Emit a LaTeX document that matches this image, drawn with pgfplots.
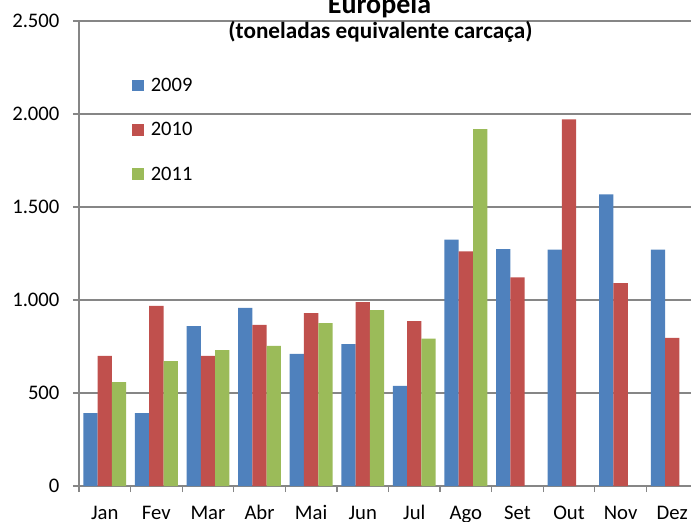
\documentclass[border=0pt]{standalone}
\usepackage{pgfplots}
\pgfplotsset{compat=1.18}
\usepackage{fontspec}
\setmainfont{Carlito}
\definecolor{c09}{HTML}{4F81BD}
\definecolor{c10}{HTML}{C0504D}
\definecolor{c11}{HTML}{9BBB59}
\definecolor{gridc}{RGB}{134,134,134}
\begin{document}
\begin{tikzpicture}
\begin{axis}[
  scale only axis, width=619bp, height=465bp,
  xmin=-0.5, xmax=11.5, ymin=0, ymax=2500,
  axis x line=bottom, axis y line=left,
  axis line style={gridc, line width=1.3bp, -},
  ybar=0pt, bar width=14.3bp,
  xtick={0,...,11},
  xticklabels={Jan,Fev,Mar,Abr,Mai,Jun,Jul,Ago,Set,Out,Nov,Dez},
  major x tick style={draw=none},
  minor xtick={-0.5,0.5,...,11.5},
  minor x tick style={gridc, line width=1.3bp},
  minor tick length=6bp,
  ytick={0,500,...,2500},
  ymajorgrids, grid style={gridc, line width=1.3bp},
  major y tick style={gridc, line width=1.3bp},
  major tick length=6bp,
  tick align=outside,
  tick label style={font=\fontsize{20.7bp}{23bp}\selectfont},
  /pgf/number format/assume math mode=true,
  /pgf/number format/.cd, 1000 sep={.}, /pgfplots/.cd,
  yticklabel style={anchor=east, xshift=-10bp},
  xticklabel style={anchor=north, text height=15bp, text depth=5bp, yshift=-9bp},
  legend style={draw=none, fill=none, at={(0.0812,0.886)}, anchor=north west,
    font=\fontsize{20.5bp}{23bp}\selectfont, row sep=25.5bp, legend cell align=left,
    /tikz/every odd column/.append style={column sep=5bp}},
  legend image code/.code={\fill[#1] (-5.5bp,-5.7bp) rectangle (5.9bp,5.7bp);},
  every axis plot/.append style={draw=none},
]
\coordinate (O) at (rel axis cs:0,0);
\addplot[fill=c09] coordinates {(0,392) (1,392) (2,860) (3,957) (4,710) (5,763) (6,538) (7,1324) (8,1274) (9,1271) (10,1568) (11,1271)};
\addplot[fill=c10] coordinates {(0,699) (1,968) (2,699) (3,866) (4,930) (5,989) (6,887) (7,1262) (8,1122) (9,1971) (10,1091) (11,797)};
\addplot[fill=c11] coordinates {(0,559) (1,672) (2,731) (3,753) (4,876) (5,946) (6,792) (7,1918)};
\legend{2009,2010,2011}
\end{axis}
\node[anchor=base, font=\bfseries\fontsize{28bp}{31bp}\selectfont] at ([shift={(300.5bp,472bp)}]O) {Europeia};
\node[font=\bfseries\fontsize{23.2bp}{26bp}\selectfont] at ([shift={(301.5bp,454bp)}]O) {(toneladas equivalente carcaça)};
\pgfresetboundingbox
\path[use as bounding box] ([shift={(-79bp,-36bp)}]O) rectangle ([shift={(612bp,486bp)}]O);
\end{tikzpicture}
\end{document}
